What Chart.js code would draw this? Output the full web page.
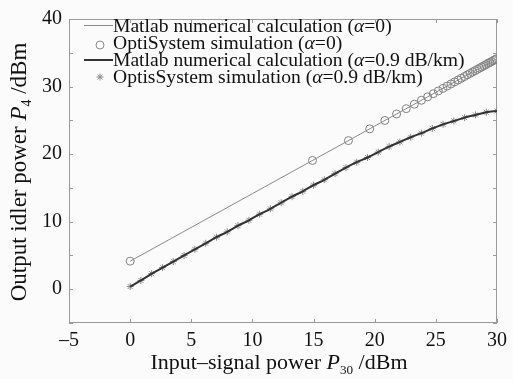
<!DOCTYPE html>
<html>
<head>
<meta charset="utf-8">
<script src="https://cdn.jsdelivr.net/npm/chart.js@4/dist/chart.umd.min.js"></script>
<style>
  html, body { margin: 0; padding: 0; background: #fbfbfb; }
  #wrap { width: 513px; height: 379px; }
</style>
</head>
<body>
<div id="wrap"><canvas id="myChart" width="513" height="379"></canvas></div>
<script>
// input power (dBm) for the alpha=0 OptiSystem points
const circX = [
  0, 14.91, 17.85, 19.59, 20.83, 21.79, 22.58, 23.24, 23.82, 24.33, 24.79,
  25.2, 25.58, 25.92, 26.24, 26.54, 26.82, 27.08, 27.33, 27.57, 27.79, 28.0,
  28.2, 28.39, 28.58, 28.76, 28.93, 29.09, 29.25, 29.4, 29.55, 29.69, 29.83,
  29.96,
];
const circY = [
  4.15, 19.06, 22.0, 23.74, 24.98, 25.94, 26.73, 27.39, 27.97, 28.48, 28.94,
  29.35, 29.73, 30.07, 30.39, 30.69, 30.97, 31.23, 31.48, 31.72, 31.94, 32.15,
  32.35, 32.54, 32.73, 32.91, 33.08, 33.24, 33.4, 33.55, 33.7, 33.84, 33.98,
  34.11,
];

// matlab alpha=0 line
const lineX0 = [0, 10, 20, 30];
const lineY0 = [4.15, 14.15, 24.15, 34.15];

// alpha=0.9 dB/km points (matlab line and OptiSystem stars share them)
const starX = [
  0, 0.88, 1.76, 2.65, 3.53, 4.41, 5.29, 6.18, 7.06, 7.94, 8.82, 9.71, 10.59,
  11.47, 12.35, 13.24, 14.12, 15.0, 15.88, 16.76, 17.65, 18.53, 19.41, 20.29,
  21.18, 22.06, 22.94, 23.82, 24.71, 25.59, 26.47, 27.35, 28.24, 29.12, 30,
];
const starY = [
  0.4, 1.3, 2.3, 3.2, 4.1, 5.0, 5.9, 6.8, 7.7, 8.5, 9.4, 10.2, 11.1, 11.9,
  12.8, 13.7, 14.5, 15.4, 16.2, 17.1, 18.0, 18.8, 19.5, 20.3, 21.1, 21.8, 22.5,
  23.1, 23.8, 24.4, 24.9, 25.4, 25.8, 26.2, 26.4,
];

const xTicks = [-5, 0, 5, 10, 15, 20, 25, 30];
const yTickLabels = [0, 10, 20, 30, 40];

const SERIF = "'Liberation Serif', 'DejaVu Serif', serif";

function pts(xs, ys) {
  return xs.map((x, i) => ({ x: x, y: ys[i] }));
}

// matlab-style box + inward ticks, axis titles and legend
const decor = {
  id: "decor",
  beforeDatasetsDraw(chart) {
    const { ctx, chartArea: a, scales } = chart;
    ctx.save();
    ctx.strokeStyle = "#9a9a9a";
    ctx.lineWidth = 1;
    ctx.strokeRect(a.left + 0.5, a.top + 0.5, a.right - a.left - 1, a.bottom - a.top - 1);
    ctx.beginPath();
    scales.x.ticks.forEach((t) => {
      const px = Math.round(scales.x.getPixelForValue(t.value)) + 0.5;
      ctx.moveTo(px, a.bottom); ctx.lineTo(px, a.bottom - 4);
      ctx.moveTo(px, a.top); ctx.lineTo(px, a.top + 4);
    });
    scales.y.ticks.forEach((t) => {
      const py = Math.round(scales.y.getPixelForValue(t.value)) + 0.5;
      ctx.moveTo(a.left, py); ctx.lineTo(a.left + 4, py);
      ctx.moveTo(a.right, py); ctx.lineTo(a.right - 4, py);
    });
    ctx.stroke();
    ctx.restore();
  },
  afterDraw(chart) {
    const { ctx, chartArea: a } = chart;
    ctx.save();
    ctx.fillStyle = "#111";
    ctx.textBaseline = "alphabetic";

    // a run of [text, italic, sub] parts
    function runWidth(parts, size) {
      let w = 0;
      parts.forEach((p) => {
        const s = p[2] ? size * 0.6 : size;
        ctx.font = (p[1] ? "italic " : "") + s + "px " + SERIF;
        w += ctx.measureText(p[0]).width;
      });
      return w;
    }
    function drawRun(parts, x, y, size) {
      parts.forEach((p) => {
        const s = p[2] ? size * 0.6 : size;
        ctx.font = (p[1] ? "italic " : "") + s + "px " + SERIF;
        ctx.fillText(p[0], x, p[2] ? y + 5 : y);
        x += ctx.measureText(p[0]).width;
      });
    }

    // x title
    const xt = [["Input\u2013signal power "], ["P", true], ["30", false, true], [" /dBm"]];
    const xw = runWidth(xt, 22);
    drawRun(xt, (a.left + a.right) / 2 - xw / 2 - 4, 369, 22);

    // y title
    const yt = [["Output idler power "], ["P", true], ["4", false, true], [" /dBm"]];
    const yw = runWidth(yt, 23);
    ctx.save();
    ctx.translate(26, 172);
    ctx.rotate(-Math.PI / 2);
    drawRun(yt, -yw / 2, 0, 23);
    ctx.restore();

    // legend
    const rows = [
      [["Matlab numerical calculation ("], ["\u03b1", true], ["=0)"]],
      [["OptiSystem simulation ("], ["\u03b1", true], ["=0)"]],
      [["Matlab numerical calculation ("], ["\u03b1", true], ["=0.9 dB/km)"]],
      [["OptisSystem simulation ("], ["\u03b1", true], ["=0.9 dB/km)"]],
    ];
    const base = [32, 49, 66, 83];
    const mid = [25, 45, 60, 77];
    rows.forEach((r, i) => drawRun(r, 113, base[i], 19.6));

    ctx.strokeStyle = "#8a8a8a";
    ctx.fillStyle = "rgba(0,0,0,0)";
    ctx.lineWidth = 1;
    ctx.beginPath(); ctx.moveTo(84, mid[0] + 0.5); ctx.lineTo(113, mid[0] + 0.5); ctx.stroke();
    Chart.helpers.drawPoint(ctx, {
      pointStyle: "circle", radius: 4, borderWidth: 1, rotation: 0,
    }, 100, mid[1]);
    ctx.strokeStyle = "#333";
    ctx.lineWidth = 2;
    ctx.beginPath(); ctx.moveTo(84, mid[2]); ctx.lineTo(113, mid[2]); ctx.stroke();
    ctx.strokeStyle = "#8a8a8a";
    ctx.lineWidth = 1;
    Chart.helpers.drawPoint(ctx, {
      pointStyle: "star", radius: 3.5, borderWidth: 1, rotation: 0,
    }, 100, mid[3]);
    ctx.restore();
  },
};

const myChart = new Chart("myChart", {
  type: "scatter",
  data: {
    datasets: [
      {
        label: "Matlab numerical calculation (\u03b1=0)",
        data: pts(lineX0, lineY0),
        showLine: true,
        borderColor: "#8a8a8a",
        borderWidth: 1,
        pointRadius: 0,
      },
      {
        label: "OptiSystem simulation (\u03b1=0)",
        data: pts(circX, circY),
        showLine: false,
        pointStyle: "circle",
        pointRadius: 4,
        borderColor: "#808080",
        backgroundColor: "rgba(0,0,0,0)",
        borderWidth: 1,
      },
      {
        label: "Matlab numerical calculation (\u03b1=0.9 dB/km)",
        data: pts(starX, starY),
        showLine: true,
        borderColor: "#333333",
        borderWidth: 2,
        pointRadius: 0,
        cubicInterpolationMode: "monotone",
      },
      {
        label: "OptisSystem simulation (\u03b1=0.9 dB/km)",
        data: pts(starX, starY),
        showLine: false,
        pointStyle: "star",
        pointRadius: 3.5,
        borderColor: "#8a8a8a",
        borderWidth: 1,
      },
    ],
  },
  options: {
    responsive: false,
    animation: false,
    layout: { padding: { top: 12, right: 12, left: 0, bottom: 0 } },
    scales: {
      x: {
        type: "linear",
        min: -5,
        max: 30,
        grid: { display: false, drawTicks: false },
        border: { display: false },
        afterFit: (s) => { s.height = 56; },
        ticks: {
          stepSize: 5,
          padding: 6,
          color: "#111",
          font: { family: SERIF, size: 20 },
          callback: (v) => (xTicks.includes(v) ? (v < 0 ? "\u2013" + -v : "" + v) : ""),
        },
      },
      y: {
        type: "linear",
        min: -5,
        max: 40,
        grid: { display: false, drawTicks: false },
        border: { display: false },
        afterFit: (s) => { s.width = 69; },
        ticks: {
          stepSize: 5,
          padding: 7,
          color: "#111",
          font: { family: SERIF, size: 20 },
          callback: (v) => (yTickLabels.includes(v) ? "" + v : ""),
        },
      },
    },
    plugins: {
      legend: { display: false },
      tooltip: { enabled: false },
    },
  },
  plugins: [decor],
});
</script>
</body>
</html>
